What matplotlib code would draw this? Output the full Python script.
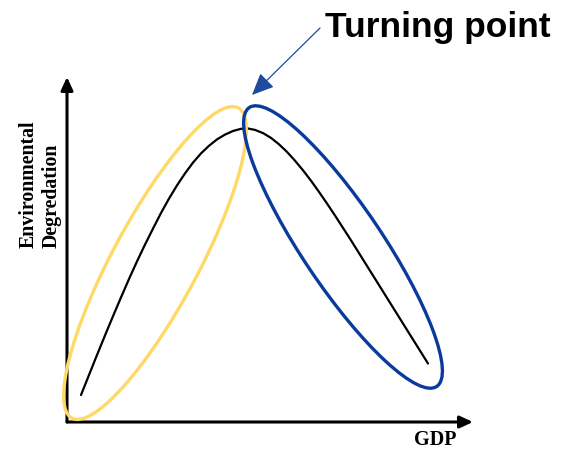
import matplotlib
matplotlib.use("Agg")
import matplotlib.pyplot as plt
from matplotlib.patches import Ellipse

# Kuznets curve (GDP, environmental degradation), arbitrary units
gdp = [14, 22, 30, 38, 46, 54, 62, 70, 78, 86, 94, 102, 110, 118, 126, 134,
       142, 150, 158, 166, 174, 180, 188, 196, 204, 212, 220, 228, 236, 244,
       252, 260, 268, 276, 284, 292, 300, 308, 316, 324, 332, 340, 348, 356, 361]
degradation = [27, 47, 67, 86.6, 105.8, 124.6, 143, 160.6, 177.4, 193.4, 209,
               223.4, 236.6, 248.6, 259.4, 268.6, 276.2, 282.6, 287.4, 291, 293.2,
               293.7, 292.1, 288.9, 284.1, 277.7, 270.1, 261.3, 251.7, 241.3, 230.1,
               218.5, 206.5, 194.1, 181.7, 168.9, 156.1, 143.3, 130.5, 117.7, 104.9,
               92.1, 79.3, 66.5, 58.5]

x_label = "GDP"
y_label = "Environmental\nDegredation"
callout = "Turning point"

W, H = 563, 449
fig = plt.figure(figsize=(W / 100, H / 100), dpi=100)

# main chart axes, spanning from the origin to the arrow tips
x0, x1 = 67, 473
y0, y1 = 422, 77
ax = fig.add_axes([x0 / W, (H - y0) / H, (x1 - x0) / W, (y0 - y1) / H])
ax.set_xlim(0, x1 - x0)
ax.set_ylim(0, y0 - y1)
ax.plot(gdp, degradation, color="black", lw=1.6, solid_capstyle="round",
        solid_joinstyle="round")
for s in ax.spines.values():
    s.set_visible(False)
ax.set_xticks([])
ax.set_yticks([])
ax.patch.set_visible(False)
head = "-|>,head_length=0.65,head_width=0.3"
ax.annotate("", xy=(1, 0), xytext=(0, 0), xycoords="axes fraction",
            arrowprops=dict(arrowstyle=head, lw=2.2, color="black",
                            mutation_scale=12, shrinkA=0, shrinkB=0))
ax.annotate("", xy=(0, 1), xytext=(0, 0), xycoords="axes fraction",
            arrowprops=dict(arrowstyle=head, lw=2.2, color="black",
                            mutation_scale=12, shrinkA=0, shrinkB=0))

# overlay in pixel units for the annotations
ov = fig.add_axes([0, 0, 1, 1])
ov.set_xlim(0, W)
ov.set_ylim(H, 0)
ov.axis("off")
ov.patch.set_visible(False)

ov.add_patch(Ellipse((155, 263), 352, 86, angle=-61.8, fill=False,
                     edgecolor="#FFD966", lw=2.4))
ov.add_patch(Ellipse((343, 247), 336, 80, angle=56.1, fill=False,
                     edgecolor="#0A3A9C", lw=2.4))

serif = dict(family="Liberation Serif", weight="bold")
ov.text(40, 248, y_label, rotation=90, ha="center", va="bottom",
        multialignment="left", fontsize=14.3, linespacing=1.2, **serif)
ov.text(435, 440, x_label, ha="center", va="center", fontsize=14.5, **serif)

ov.text(438, 37, callout, ha="center", va="baseline", fontsize=25.5,
        family="Liberation Sans", weight="bold")
ov.annotate("", xy=(252, 95), xytext=(320, 28),
            arrowprops=dict(arrowstyle="-|>,head_length=0.9,head_width=0.4",
                            lw=0.9, color="#1F4A9E", mutation_scale=15,
                            shrinkA=0, shrinkB=0))

fig.savefig("out.png", dpi=100)
